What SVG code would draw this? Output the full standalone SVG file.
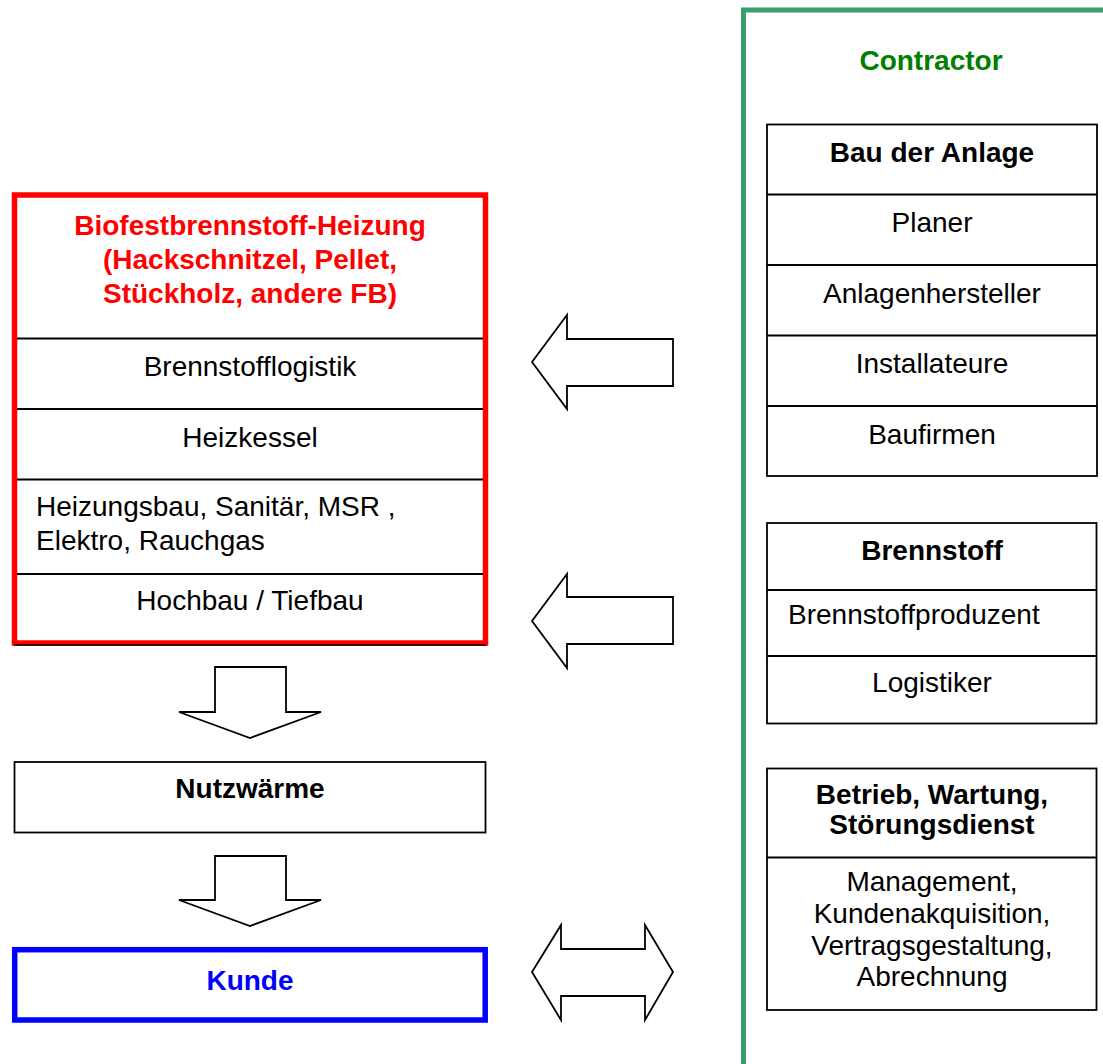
<svg xmlns="http://www.w3.org/2000/svg" width="1103" height="1064" viewBox="0 0 1103 1064">
<style>
text{font-family:"Liberation Sans",Arial,sans-serif;font-size:28px;fill:#000}
.b{font-weight:bold}
.c{text-anchor:middle}
.box{fill:#fff;stroke:#000;stroke-width:1.8}
.div{stroke:#000;stroke-width:1.8}
.arr{fill:#fff;stroke:#000;stroke-width:1.8;stroke-linejoin:miter}
</style>
<rect width="1103" height="1064" fill="#fff"/>
<g id="contractor">
<rect x="743.5" y="10" width="420" height="1100" fill="none" stroke="#3c9e6d" stroke-width="5"/>
<text class="b c" x="931" y="70" fill="#008000" style="fill:#008000">Contractor</text>
</g>
<g id="heizung">
<rect x="14.5" y="195" width="471" height="448" fill="#fff" stroke="#ff0000" stroke-width="5.5"/>
<line x1="14" y1="645" x2="486" y2="645" stroke="#000" stroke-width="1.5"/>
<line class="div" x1="17" y1="338.5" x2="483" y2="338.5"/>
<line class="div" x1="17" y1="409" x2="483" y2="409"/>
<line class="div" x1="17" y1="479.5" x2="483" y2="479.5"/>
<line class="div" x1="17" y1="574" x2="483" y2="574"/>
<text class="b c" x="250" y="235" style="fill:#ff0000">Biofestbrennstoff-Heizung</text>
<text class="b c" x="250" y="269" style="fill:#ff0000">(Hackschnitzel, Pellet,</text>
<text class="b c" x="250" y="302.5" style="fill:#ff0000">Stückholz, andere FB)</text>
<text class="c" x="250" y="376">Brennstofflogistik</text>
<text class="c" x="250" y="446.5">Heizkessel</text>
<text x="36" y="516">Heizungsbau, Sanitär, MSR ,</text>
<text x="36" y="549.5">Elektro, Rauchgas</text>
<text class="c" x="250" y="610">Hochbau / Tiefbau</text>
</g>
<g id="nutzwaerme">
<rect class="box" x="14.5" y="762" width="471" height="70.5"/>
<text class="b c" x="250" y="798">Nutzwärme</text>
</g>
<g id="kunde">
<rect x="14.7" y="949.7" width="470.5" height="70.3" fill="#fff" stroke="#0000ff" stroke-width="5.5"/>
<text class="b c" x="250" y="989.5" style="fill:#0000ff">Kunde</text>
</g>
<g id="bau">
<rect class="box" x="767" y="124.5" width="330" height="351.5"/>
<line class="div" x1="767" y1="194.5" x2="1097" y2="194.5"/>
<line class="div" x1="767" y1="265" x2="1097" y2="265"/>
<line class="div" x1="767" y1="335.5" x2="1097" y2="335.5"/>
<line class="div" x1="767" y1="406" x2="1097" y2="406"/>
<text class="b c" x="932" y="161.5">Bau der Anlage</text>
<text class="c" x="932" y="232">Planer</text>
<text class="c" x="932" y="302.5">Anlagenhersteller</text>
<text class="c" x="932" y="373">Installateure</text>
<text class="c" x="932" y="443.5">Baufirmen</text>
</g>
<g id="brennstoff">
<rect class="box" x="767" y="523" width="329.5" height="200.5"/>
<line class="div" x1="767" y1="590" x2="1096.5" y2="590"/>
<line class="div" x1="767" y1="656" x2="1096.5" y2="656"/>
<text class="b c" x="932" y="559.5">Brennstoff</text>
<text x="788" y="624">Brennstoffproduzent</text>
<text class="c" x="932" y="691.5">Logistiker</text>
</g>
<g id="betrieb">
<rect class="box" x="767" y="768.5" width="329.5" height="241.5"/>
<line class="div" x1="767" y1="857.5" x2="1096.5" y2="857.5"/>
<text class="b c" x="932" y="803.5">Betrieb, Wartung,</text>
<text class="b c" x="932" y="833.5">Störungsdienst</text>
<text class="c" x="932" y="890.5">Management,</text>
<text class="c" x="932" y="922.5">Kundenakquisition,</text>
<text class="c" x="932" y="955">Vertragsgestaltung,</text>
<text class="c" x="932" y="985.5">Abrechnung</text>
</g>
<g id="connectors">
<polygon class="arr" points="532,362 567,315 567,339 673,339 673,386 567,386 567,409"/>
<polygon class="arr" points="532,621 567,574 567,597 673,597 673,644 567,644 567,668"/>
<polygon class="arr" points="215,667 286,667 286,712 321,712 250,738 179,712 215,712"/>
<polygon class="arr" points="215,856 286,856 286,900 321,900 250,926 179,900 215,900"/>
<polygon class="arr" points="532,972 561,925 561,949 645,949 645,925 673,972 645,1020 645,996 561,996 561,1020"/>
</g>
</svg>
